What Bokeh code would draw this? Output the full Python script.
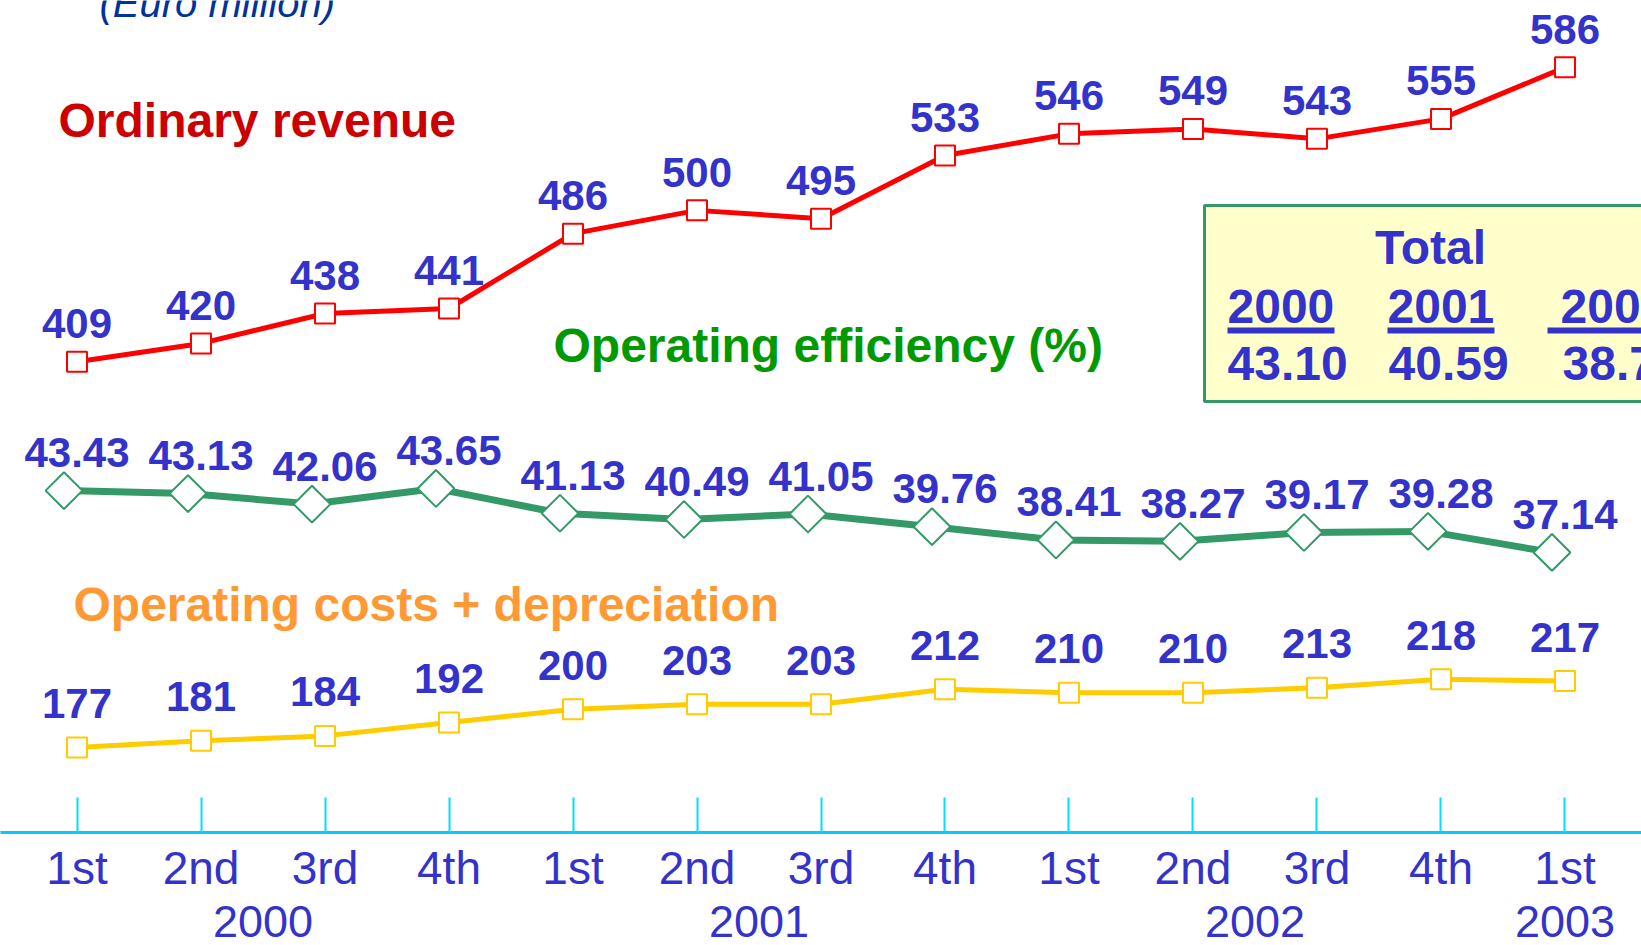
from bokeh.plotting import figure
from bokeh.models import FactorRange, Range1d, ColumnDataSource, Label, BoxAnnotation
from bokeh.transform import dodge
from bokeh.core.properties import value
from bokeh.embed import file_html
from bokeh.resources import INLINE

# ---- data ----
years = ["2000", "2000", "2000", "2000", "2001", "2001", "2001", "2001",
         "2002", "2002", "2002", "2002", "2003"]
quarters = ["1st", "2nd", "3rd", "4th", "1st", "2nd", "3rd", "4th",
            "1st", "2nd", "3rd", "4th", "1st"]
revenue = [409, 420, 438, 441, 486, 500, 495, 533, 546, 549, 543, 555, 586]
efficiency = [43.43, 43.13, 42.06, 43.65, 41.13, 40.49, 41.05, 39.76,
              38.41, 38.27, 39.17, 39.28, 37.14]
costs = [177, 181, 184, 192, 200, 203, 203, 212, 210, 210, 213, 218, 217]
total_years = ["2000", "2001", "2002"]
total_values = ["43.10", "40.59", "38.78"]

FONT = "Liberation Sans"
BLUE = "#3333CC"

factors = list(zip(years, quarters))
src = ColumnDataSource(dict(
    x=factors,
    revenue=revenue,
    eff=efficiency,
    costs=costs,
    rev_lbl=[str(v) for v in revenue],
    eff_lbl=["%.2f" % v for v in efficiency],
    cost_lbl=[str(v) for v in costs],
))

x_range = FactorRange(*factors, group_padding=0, factor_padding=0,
                      range_padding=0.117, range_padding_units="absolute")
p = figure(x_range=x_range, y_range=Range1d(125.9, 626.2),
           frame_width=1641, frame_height=832,
           output_backend="svg", toolbar_location=None,
           min_border=0, y_axis_location=None, background_fill_color="white")
p.extra_y_ranges = {"eff": Range1d(8.65, 93.29)}
p.grid.visible = False
p.outline_line_color = None

ax = p.xaxis[0]
ax.axis_line_color = "#00CCFF"
ax.axis_line_width = 3
ax.major_tick_in = 35
ax.major_tick_out = 0
ax.major_tick_line_color = "#00DDFF"
ax.major_tick_line_width = 2
ax.minor_tick_line_color = None
ax.major_label_text_font = FONT
ax.major_label_text_font_size = "46px"
ax.major_label_text_color = BLUE
ax.major_label_standoff = 9
ax.group_text_font = FONT
ax.group_text_font_size = "45px"
ax.group_text_color = BLUE
ax.group_text_font_style = "normal"
ax.separator_line_alpha = 0

# background box
p.add_layout(BoxAnnotation(left=1204, right=1700, top=627, bottom=431,
                           left_units="screen", right_units="screen",
                           top_units="screen", bottom_units="screen",
                           fill_color="#FFFFCC", fill_alpha=1,
                           line_color="#339966", line_width=3, line_alpha=1,
                           level="underlay"))

# series
p.line(x="x", y="revenue", source=src, line_color="#FF0000", line_width=5)
p.scatter(x="x", y="revenue", source=src, marker="square", size=20,
          fill_color="white", line_color="#FF0000", line_width=2)

ex = dodge("x", -0.105, range=x_range)
p.line(x=ex, y="eff", source=src, y_range_name="eff",
       line_color="#339966", line_width=7)
p.scatter(x=ex, y="eff", source=src, y_range_name="eff", marker="square",
          angle=0.7853981634, size=26, fill_color="white",
          line_color="#339966", line_width=2)

p.line(x="x", y="costs", source=src, line_color="#FFCC00", line_width=5)
p.scatter(x="x", y="costs", source=src, marker="square", size=20,
          fill_color="white", line_color="#FFCC00", line_width=2)

common = dict(text_font=value(FONT), text_font_style="bold",
              text_font_size="42px", text_color=BLUE,
              text_align="center", text_baseline="middle")
p.text(x="x", y="revenue", text="rev_lbl", source=src, y_offset=-38, **common)
p.text(x="x", y="eff", text="eff_lbl", source=src, y_range_name="eff",
       y_offset=-38, **common)
p.text(x="x", y="costs", text="cost_lbl", source=src, y_offset=-44, **common)

def lab(x, y, text, color, size="48px", style="bold", align="left",
        baseline="middle"):
    p.add_layout(Label(x=x, y=y, x_units="screen", y_units="screen",
                       text=text, text_font=FONT, text_font_size=size,
                       text_font_style=style, text_color=color,
                       text_align=align, text_baseline=baseline))

lab(99, 830, "(Euro million)", "#003399", size="40px", style="italic",
    baseline="alphabetic")
lab(58, 712, "Ordinary revenue", "#CC0000")
lab(553, 487, "Operating efficiency (%)", "#009900")
lab(73, 228, "Operating costs + depreciation", "#FF9933")

# totals box
lab(1430, 585, "Total", BLUE, align="center")
year_x = [1227, 1387, 1560]
val_x = [1227, 1388, 1562]
ul_x = [(1227, 1334), (1387, 1494), (1547, 1700)]
for i, (yr, val) in enumerate(zip(total_years, total_values)):
    lab(year_x[i], 526, yr, BLUE)
    lab(val_x[i], 469, val, BLUE)
    p.add_layout(BoxAnnotation(left=ul_x[i][0], right=ul_x[i][1],
                               top=505, bottom=499,
                               left_units="screen", right_units="screen",
                               top_units="screen", bottom_units="screen",
                               fill_color=BLUE, fill_alpha=1, line_color=None))

open("out.html", "w").write(file_html(p, INLINE))
